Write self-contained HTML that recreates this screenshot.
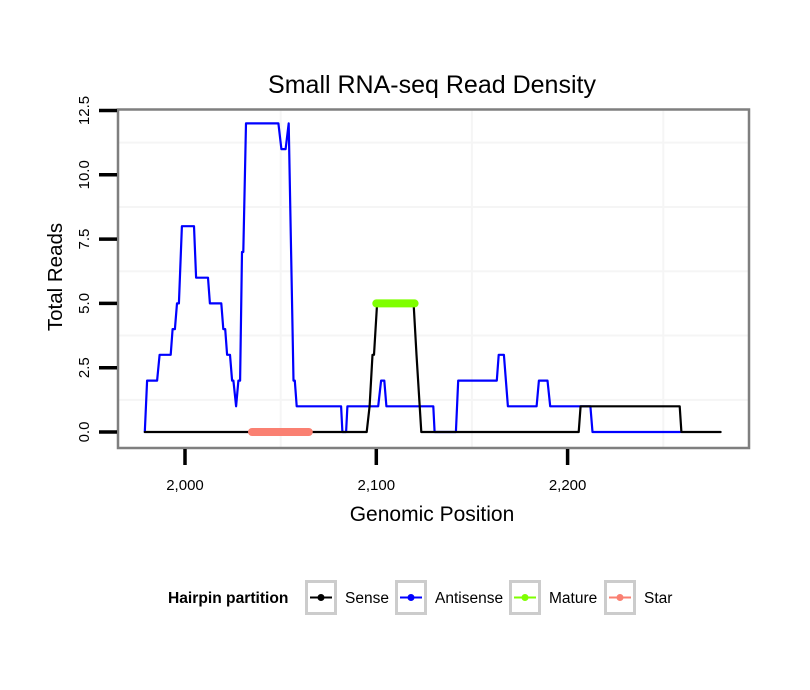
<!DOCTYPE html>
<html><head><meta charset="utf-8"><style>
body{margin:0;background:#fff;}
svg{display:block;font-family:"Liberation Sans",Arial,sans-serif;}
</style></head><body>
<svg id="chart" width="810" height="690" viewBox="0 0 810 690">
<rect width="810" height="690" fill="#fff"/>
<text x="432" y="93" font-size="25" text-anchor="middle" fill="#000">Small RNA-seq Read Density</text>
<g id="grid"></g>
<g id="series"></g>
<rect x="118" y="109.5" width="631" height="338.5" fill="none" stroke="#7f7f7f" stroke-width="2.5"/>
<g id="axes"></g>
<text x="432" y="521" font-size="21" text-anchor="middle">Genomic Position</text>
<text transform="translate(62,277) rotate(-90)" font-size="20.5" text-anchor="middle">Total Reads</text>
<g>
<text x="168" y="603" font-size="15.6" font-weight="bold">Hairpin partition</text>
<g id="legend-keys"></g>
</g>
</svg>
<script>
const xTicks=[2000,2100,2200];
const xTickLabels=["2,000","2,100","2,200"];
const yTicks=[0,2.5,5,7.5,10,12.5];
const yTickLabels=["0.0","2.5","5.0","7.5","10.0","12.5"];
const antisensePos=[1979,1980.2,1985.4,1986.7,1992.5,1993.5,1994.7,1995.8,1996.8,1998.4,2004.7,2005.8,2012,2013,2019,2020,2021,2022,2023.5,2024.6,2025.3,2026.7,2027.9,2028.8,2029.8,2030.5,2031.9,2048.8,2050.4,2052.6,2054.2,2056.7,2057.4,2058.4,2081.6,2082.3,2084.2,2084.9,2101,2102.5,2104.2,2105.3,2129.8,2130.5,2141.6,2142.8,2163,2164,2166.7,2168.8,2183.8,2185,2189.5,2190.9,2211.9,2213,2259];
const antisenseVal=[0,2,2,3,3,4,4,5,5,8,8,6,6,5,5,4,4,3,3,2,2,1,2,2,7,7,12,12,11,11,12,2,2,1,1,0,0,1,1,2,2,1,1,0,0,2,2,3,3,1,1,2,2,1,1,0,0];
const sensePos=[1979,2095,2096.5,2098,2098.8,2100.4,2119.5,2121,2123.5,2205.8,2206.8,2258.6,2259.5,2280];
const senseVal=[0,0,1,3,3,5,5,3,0,0,1,1,0,0];
const maturePos=[2100,2120];
const matureVal=[5,5];
const starPos=[2035,2064.7];
const starVal=[0,0];
const legendLabels=["Sense","Antisense","Mature","Star"];
const legendColors=["#000000","#0000ff","#7fff00","#fa8072"];

const NS="http://www.w3.org/2000/svg";
const X=v=>185+(v-2000)*1.913;
const Y=v=>432-v*25.72;
function mk(tag,attrs,parent){const e=document.createElementNS(NS,tag);for(const k in attrs)e.setAttribute(k,attrs[k]);parent.appendChild(e);return e;}
const grid=document.getElementById('grid'),series=document.getElementById('series'),axes=document.getElementById('axes');
for(let i=0;i<yTicks.length-1;i++){const v=(yTicks[i]+yTicks[i+1])/2;
 const l=mk('line',{x1:118,x2:749,y1:Y(v),y2:Y(v),stroke:'#f5f5f5','stroke-width':2},grid);
 
 }
for(const v of [2050,2150,2250]){
 const l=mk('line',{x1:X(v),x2:X(v),y1:110,y2:448,stroke:'#f5f5f5','stroke-width':2},grid);
 
 }
function line(pos,val,color,w,name){
 const d=pos.map((p,i)=>(i?'L':'M')+X(p).toFixed(1)+','+Y(val[i]).toFixed(1)).join('');
 const p=mk('path',{d:d,fill:'none',stroke:color,'stroke-width':w,'stroke-linejoin':'round','stroke-linecap':'round'},series);
 
 }
line(antisensePos,antisenseVal,'#0000ff',2.2,'antisense-line');
line(sensePos,senseVal,'#000000',2.2,'sense-line');
line(maturePos,matureVal,'#7fff00',8,'mature-segment');
line(starPos,starVal,'#fa8072',8,'star-segment');
yTicks.forEach((v,i)=>{
 const t=mk('line',{x1:99,x2:117,y1:Y(v),y2:Y(v),stroke:'#000','stroke-width':3.5},axes);
 
 
 const tx=mk('text',{transform:`translate(${89},${Y(v)}) rotate(-90)`,'font-size':15,'text-anchor':'middle',fill:'#000'},axes);
 tx.textContent=yTickLabels[i];
 
 });
xTicks.forEach((v,i)=>{
 const t=mk('line',{x1:X(v),x2:X(v),y1:449,y2:465,stroke:'#000','stroke-width':3.5},axes);
 
 
 const tx=mk('text',{x:X(v),y:490,'font-size':15,'text-anchor':'middle',fill:'#000'},axes);
 tx.textContent=xTickLabels[i];
 
 });
const lk=document.getElementById('legend-keys');
const boxX=[305,395,509,604];
legendLabels.forEach((lab,i)=>{
 const g=mk('g',{},lk);
 
 
 const bx=boxX[i];
 mk('rect',{x:bx+1.5,y:581.5,width:29,height:32,fill:'#fff',stroke:'#cccccc','stroke-width':3},g);
 mk('line',{x1:bx+5,x2:bx+27,y1:597.5,y2:597.5,stroke:legendColors[i],'stroke-width':2},g);
 mk('circle',{cx:bx+16,cy:597.5,r:3.5,fill:legendColors[i]},g);
 const t=mk('text',{x:bx+40,y:603,'font-size':15.5,fill:'#000'},g);
 t.textContent=lab;});
</script>
</body></html>
